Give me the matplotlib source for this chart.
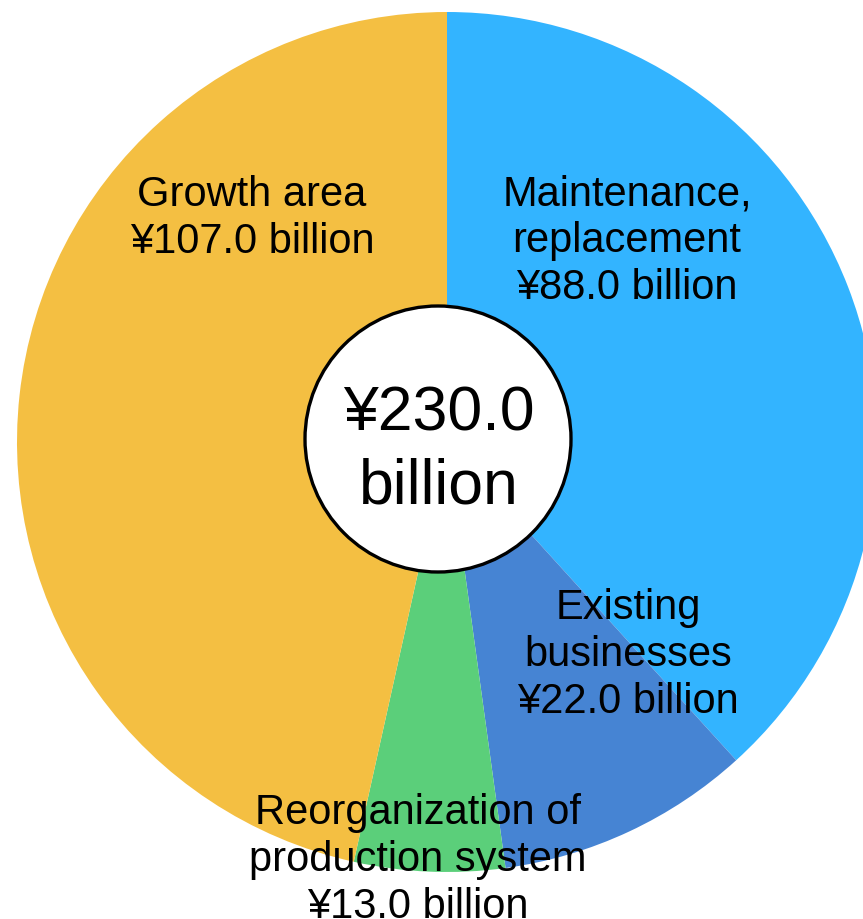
import matplotlib
matplotlib.use("Agg")
import matplotlib.pyplot as plt
from matplotlib.patches import Circle

# Capital investment breakdown (¥ billion)
categories = ["Maintenance,\nreplacement", "Existing\nbusinesses",
              "Reorganization of\nproduction system", "Growth area"]
values = [88.0, 22.0, 13.0, 107.0]
colors = ["#33B4FF", "#4684D3", "#5BCF7A", "#F4BF42"]
total = sum(values)

W, H = 863, 919
fig = plt.figure(figsize=(W / 100, H / 100), dpi=100)
ax = fig.add_axes([0, 0, 1, 1])

plt.rcParams["font.family"] = ["Liberation Sans", "DejaVu Sans"]

pie_center = (447, H - 442)
pie_radius = 430
wedges, _ = ax.pie(values, colors=colors, startangle=90, counterclock=False,
                   center=pie_center, radius=pie_radius,
                   wedgeprops=dict(linewidth=0))

# label anchor points (x, baseline of last line)
label_pos = [(627, H - 299), (628, H - 713), (418, H - 918), (252, H - 253)]
for cat, val, (x, y) in zip(categories, values, label_pos):
    ax.text(x, y, f"{cat}\n¥{val:.1f} billion", ha="center", va="baseline",
            fontsize=30, linespacing=1.22, color="black",
            family=["Liberation Sans", "DejaVu Sans"])

# central total
ax.add_patch(Circle((438, H - 439), 133, facecolor="white", edgecolor="black",
                    linewidth=2.4, zorder=5))
ax.text(438.5, H - 503, f"¥{total:.1f}\nbillion", ha="center", va="baseline",
        fontsize=45, linespacing=1.3, color="black", zorder=6,
        family=["Liberation Sans", "DejaVu Sans"])

ax.set_xlim(0, W)
ax.set_ylim(0, H)
ax.set_aspect("auto")
ax.set_axis_off()

fig.savefig("out.png", dpi=100)
